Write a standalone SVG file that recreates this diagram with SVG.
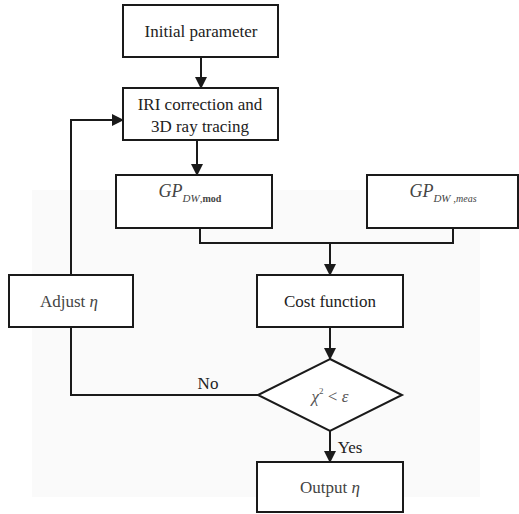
<svg xmlns="http://www.w3.org/2000/svg" width="519" height="514" viewBox="0 0 519 514">
<style>
.box{fill:#fff;stroke:#1a1a1a;stroke-width:2}
.line{fill:none;stroke:#1a1a1a;stroke-width:2}
text{font-family:'Liberation Serif','Times New Roman',serif;font-size:17px;fill:#222;text-anchor:middle}
.i{font-style:italic}
</style>
<defs>
<marker id="ah" markerWidth="12" markerHeight="12" refX="11" refY="6" orient="auto" markerUnits="userSpaceOnUse">
<path d="M0,0 L12,6 L0,12 Z" fill="#1a1a1a"/>
</marker>
</defs>
<rect x="32" y="190" width="448" height="307" fill="#fafafa"/>
<g id="connectors">
<line class="line" x1="201" y1="57" x2="201" y2="88" marker-end="url(#ah)"/>
<line class="line" x1="197" y1="140" x2="197" y2="175" marker-end="url(#ah)"/>
<polyline class="line" points="200,228 200,243 453,243 453,227"/>
<line class="line" x1="330" y1="243" x2="330" y2="275" marker-end="url(#ah)"/>
<polyline class="line" points="71,275 71,120 123,120" marker-end="url(#ah)"/>
<polyline class="line" points="71,327 71,395 258,395"/>
<line class="line" x1="330" y1="327" x2="330" y2="359" marker-end="url(#ah)"/>
<line class="line" x1="330" y1="431" x2="330" y2="462" marker-end="url(#ah)"/>
<text x="208" y="389">No</text>
<text x="350" y="453">Yes</text>
</g>
<g id="initial">
<rect class="box" x="123" y="5" width="155" height="52"/>
<text x="201" y="37" font-size="18">Initial parameter</text>
</g>
<g id="iri">
<rect class="box" x="123" y="88" width="155" height="52"/>
<text x="200" y="110">IRI correction and</text>
<text x="200" y="132">3D ray tracing</text>
</g>
<g id="gpmod">
<rect class="box" x="116" y="175" width="156" height="53"/>
<text x="190" y="197" style="fill:#444"><tspan class="i" font-size="18">GP</tspan><tspan class="i" font-size="11" dy="5">DW</tspan><tspan font-size="11">,</tspan><tspan font-size="10" font-weight="bold">mod</tspan></text>
</g>
<g id="gpmeas">
<rect class="box" x="367" y="175" width="151" height="53"/>
<text x="443" y="197" style="fill:#444"><tspan class="i" font-size="18">GP</tspan><tspan class="i" font-size="11" dy="5">DW</tspan><tspan font-size="11"> ,</tspan><tspan class="i" font-size="10">meas</tspan></text>
</g>
<g id="cost">
<rect class="box" x="257" y="275" width="146" height="52"/>
<text x="330" y="307">Cost function</text>
</g>
<g id="adjust">
<rect class="box" x="9" y="275" width="124" height="52"/>
<text x="69" y="307" style="fill:#444">Adjust <tspan class="i">η</tspan></text>
</g>
<g id="check">
<polygon class="box" points="330,359 402,395 330,431 258,395"/>
<text x="330" y="402" style="fill:#555"><tspan class="i">χ</tspan><tspan font-size="9" dy="-8">2</tspan><tspan dy="8"> &lt; </tspan><tspan class="i">ε</tspan></text>
</g>
<g id="output">
<rect class="box" x="257" y="462" width="146" height="50"/>
<text x="330" y="493" style="fill:#444">Output <tspan class="i">η</tspan></text>
</g>
</svg>
